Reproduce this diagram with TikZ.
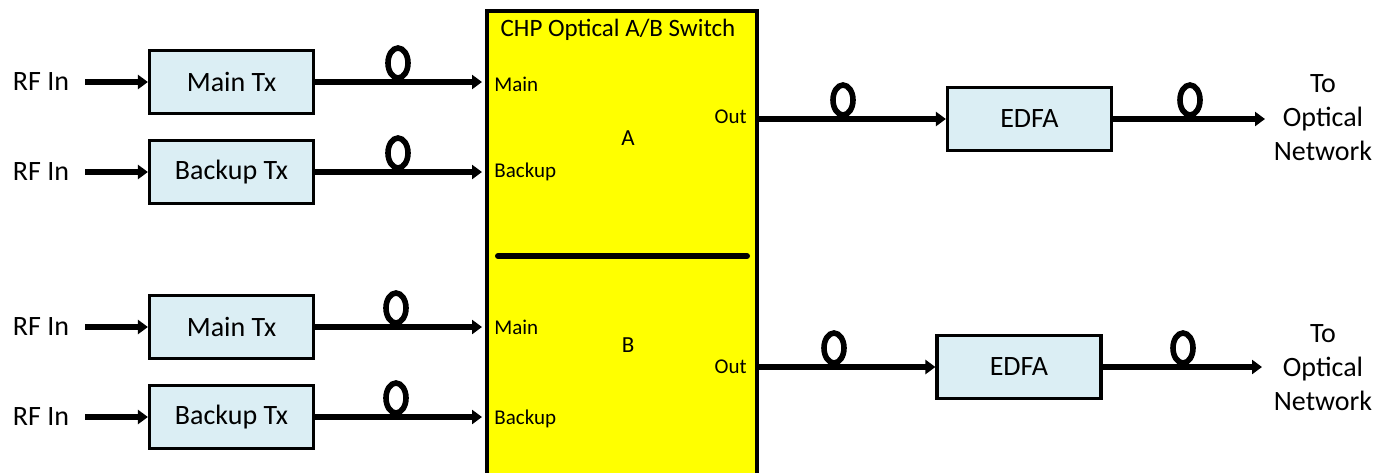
\documentclass[tikz,border=0pt]{standalone}
\usepackage{fontspec}
\setmainfont{Carlito}
\usetikzlibrary{arrows.meta,shapes.geometric}
\definecolor{azzurro}{HTML}{DBEEF4}
\definecolor{giallo}{HTML}{FFFF00}

\begin{document}
\begin{tikzpicture}[x=0.5pt, y=-0.5pt,
        blocco/.style={rectangle, draw, line width=1.6pt, fill=azzurro, minimum width=82pt, minimum height=31.5pt, inner sep=0pt, font=\fontsize{14}{17}\selectfont},
        testo/.style={inner sep=0pt, font=\fontsize{14}{17}\selectfont},
        porta/.style={inner sep=0pt, font=\fontsize{10.5}{12}\selectfont},
        fibra/.style={ellipse, draw, line width=2.8pt, minimum width=10pt, minimum height=15pt, inner sep=0pt},
        freccia/.style={line width=2.8pt, -{Triangle[length=5pt,width=7pt]}}]

        \useasboundingbox (0,0) rectangle (1377,472);

        % Switch A/B
        \node[rectangle, draw, line width=1.6pt, fill=giallo, minimum width=135pt, minimum height=236pt, inner sep=0pt] (sw) at (622,247) {};
        \node[inner sep=0pt, font=\fontsize{12.5}{14}\selectfont] (titolo) at (618,30) {CHP Optical A/B Switch};
        \draw[line width=3pt, line cap=round] (498,256) -- (747,256);
        \node[porta, anchor=west] (pmA) at (494,84) {Main};
        \node[porta, anchor=west] (pbA) at (494,172) {Backup};
        \node[porta, anchor=east] (poA) at (747,117) {Out};
        \node[inner sep=0pt, font=\fontsize{11.5}{14}\selectfont] (lA) at (628,138) {A};
        \node[porta, anchor=west] (pmB) at (494,327) {Main};
        \node[porta, anchor=west] (pbB) at (494,419) {Backup};
        \node[porta, anchor=east] (poB) at (747,367) {Out};
        \node[inner sep=0pt, font=\fontsize{11.5}{14}\selectfont] (lB) at (628,345) {B};

        % Ingressi e uscite dello switch
        \coordinate (inmA) at (482,82);
        \coordinate (inbA) at (482,172);
        \coordinate (inmB) at (482,327);
        \coordinate (inbB) at (482,417);
        \coordinate (outA) at (757,119);
        \coordinate (outB) at (757,367);

        % Posizioni dei nodi
        \node[testo] (rf1) at (41,82) {RF In};
        \node[testo] (rf2) at (41,172) {RF In};
        \node[testo] (rf3) at (41,327) {RF In};
        \node[testo] (rf4) at (41,417) {RF In};
        \node[blocco] (tx1) at (231.5,82) {Main Tx};
        \node[blocco] (tx2) at (231.5,172) {Backup Tx};
        \node[blocco] (tx3) at (231.5,327) {Main Tx};
        \node[blocco] (tx4) at (231.5,417) {Backup Tx};
        \node[blocco] (edA) at (1029.5,119) {EDFA};
        \node[blocco] (edB) at (1019,367) {EDFA};
        \node[testo, align=center] (netA) at (1323,118) {To\\Optical\\Network};
        \node[testo, align=center] (netB) at (1323,368) {To\\Optical\\Network};
        \coordinate (fineA) at (1265,119);
        \coordinate (fineB) at (1262,367);

        % Bobine di fibra
        \node[fibra] (f1) at (398,63) {};
        \node[fibra] (f2) at (398,153) {};
        \node[fibra] (f3) at (396,308) {};
        \node[fibra] (f4) at (396,398) {};
        \node[fibra] (f5) at (843,100) {};
        \node[fibra] (f6) at (1190,100) {};
        \node[fibra] (f7) at (834,348) {};
        \node[fibra] (f8) at (1183,348) {};

        % Archi
        \draw[freccia, shorten <=8pt] (rf1.east) -- (tx1.west);
        \draw[freccia, shorten <=8pt] (rf2.east) -- (tx2.west);
        \draw[freccia, shorten <=8pt] (rf3.east) -- (tx3.west);
        \draw[freccia, shorten <=8pt] (rf4.east) -- (tx4.west);
        \draw[freccia] (tx1.east) -- (inmA);
        \draw[freccia] (tx2.east) -- (inbA);
        \draw[freccia] (tx3.east) -- (inmB);
        \draw[freccia] (tx4.east) -- (inbB);
        \draw[freccia] (outA) -- (edA.west);
        \draw[freccia] (outB) -- (edB.west);
        \draw[freccia] (edA.east) -- (fineA);
        \draw[freccia] (edB.east) -- (fineB);
    \end{tikzpicture}
\end{document}
